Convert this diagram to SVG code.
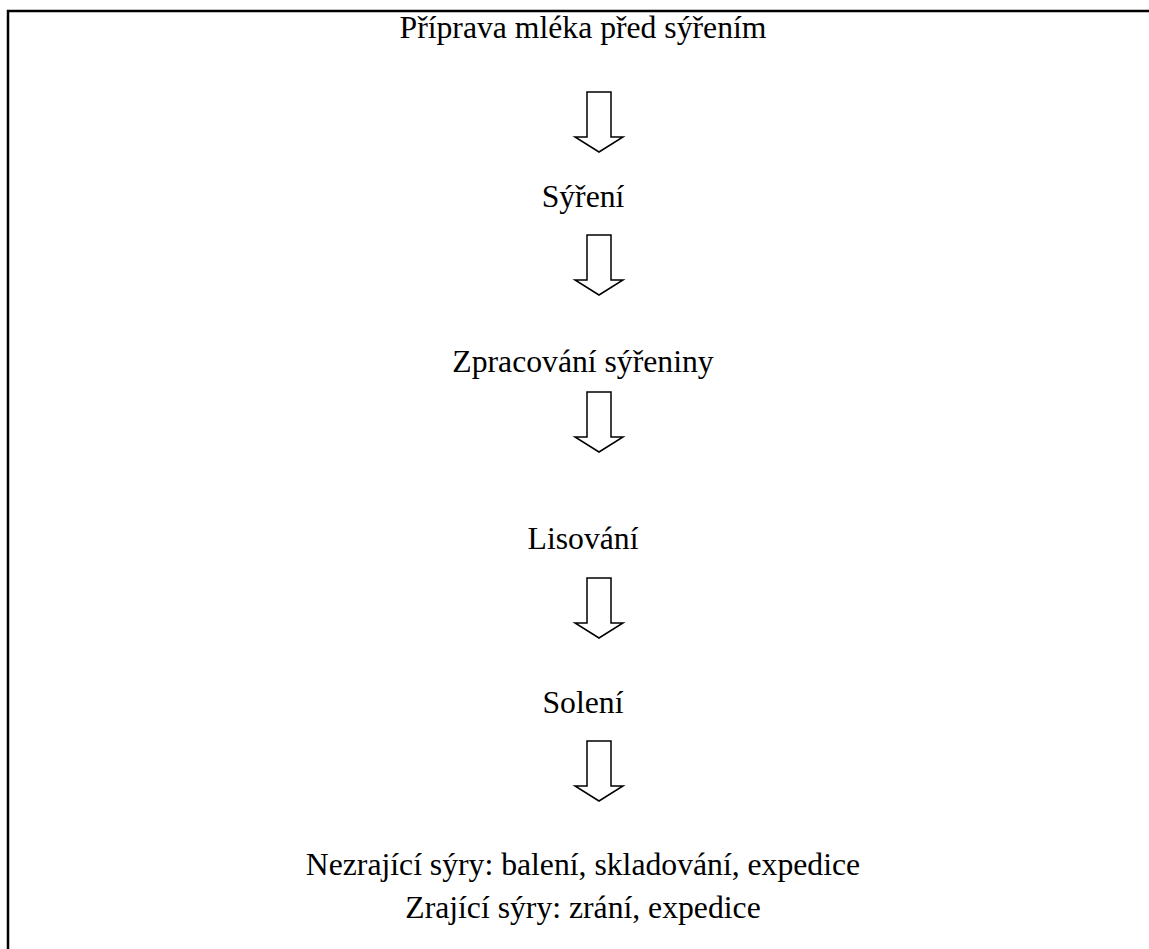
<svg xmlns="http://www.w3.org/2000/svg" width="1149" height="949" viewBox="0 0 1149 949">
<style>
.t{font-family:"Liberation Serif","Times New Roman",serif;font-size:31.7px;fill:#000;text-anchor:middle}
.a{fill:#fff;stroke:#000;stroke-width:1.5;stroke-linejoin:miter}
</style>
<defs>
<path id="arr" class="a" d="M-12,0 H12 V45 H24 L0,60 L-24,45 H-12 Z"/>
</defs>
<rect x="0" y="0" width="1149" height="949" fill="#fff"/>
<g id="frame" fill="none" stroke="#000" stroke-width="2.5">
<path d="M8,949 V11 H1149"/>
</g>
<g id="n1"><text class="t" x="583" y="38">Příprava mléka před sýřením</text></g>
<g id="n2"><text class="t" x="583" y="207">Sýření</text></g>
<g id="n3"><text class="t" x="583" y="372">Zpracování sýřeniny</text></g>
<g id="n4"><text class="t" x="583" y="549">Lisování</text></g>
<g id="n5"><text class="t" x="583" y="713">Solení</text></g>
<g id="n6"><text class="t" x="583" y="875">Nezrající sýry: balení, skladování, expedice</text><text class="t" x="583" y="918">Zrající sýry: zrání, expedice</text></g>
<g id="connectors">
<use href="#arr" x="599" y="92"/>
<use href="#arr" x="599" y="235"/>
<use href="#arr" x="599" y="392"/>
<use href="#arr" x="599" y="578"/>
<use href="#arr" x="599" y="741"/>
</g>
</svg>
